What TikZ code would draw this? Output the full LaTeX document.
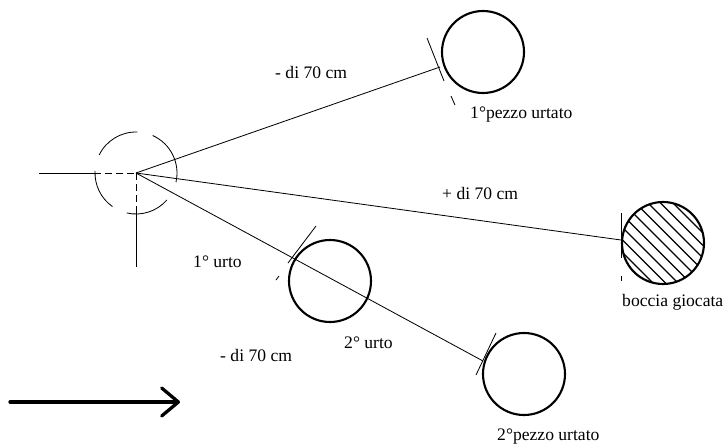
\documentclass[tikz,border=0pt]{standalone}
\usepackage{amsmath}
\usepackage{fontspec}
\setmainfont{Liberation Serif}
\usetikzlibrary{arrows.meta,calc}

\tikzset{
  ball/.style={circle, draw, line width=1.8pt, minimum size=2.46cm, inner sep=0pt},
  fine/.style={line width=0.7pt},
  lbl/.style={anchor=base west, inner sep=0pt, font=\fontsize{15}{18}\selectfont},
}

\begin{document}
\begin{tikzpicture}[x=0.03cm, y=-0.03cm]
\useasboundingbox (0,0) rectangle (725,446);
%cue ball
\coordinate (cue) at (136,173);
\foreach \a/\b in {88/154, 177/235, 257/319, 347/426}{
	\draw[fine] ($(cue)+(-\a:41)$) arc[start angle=-\a, end angle=-\b, radius=41];
	}
\coordinate (west) at (39,173);
\coordinate (westin) at (94,173);
\coordinate (south) at (136,267);
\coordinate (southin) at (136,213);
\draw[fine] (west) -- (westin);
\draw[fine, dash pattern={on 6pt off 3.5pt}] (westin) -- (cue);
\draw[fine, dash pattern={on 6pt off 3.5pt}] (cue) -- (southin);
\draw[fine] (southin) -- (south);
%hatched ball
\coordinate (gc) at (663,243);
\begin{scope}
	\clip (gc) circle[radius=41.5];
	\foreach \k in {-6,...,6}{
		\draw[line width=1.2pt] ($(gc)+(\k*12.5-60,-60)$) -- ++(120,120);
		}
\end{scope}
%balls
\node[ball] (giocata) at (gc) {};
\node[ball] (pezzoA) at (483,52) {};
\node[ball] (mid) at (330,281) {};
\node[ball] (pezzoB) at (524,374) {};
%contact points
\coordinate (hitA) at (440,67);
\coordinate (hitG) at (621,240);
\coordinate (hitB) at (483,361);
\draw[fine] (cue) -- (hitA);
\draw[fine] (cue) -- (hitG);
\draw[fine] (cue) -- (hitB);
%tangent marks
\draw[fine] (427,38) -- (444,81);
\draw[fine] (451,96) -- (455,105);
\draw[fine] (621,213) -- (621,258);
\draw[fine] (621,276) -- (621,281);
\draw[fine] (316,226) -- (288,263);
\draw[fine] (279,276) -- (276,280);
\draw[fine] (496,333) -- (476,375);
%direction
\coordinate (dirA) at (10,402);
\coordinate (dirB) at (180,402);
\draw[line width=2.8pt, line cap=round, -{Straight Barb[round, length=0.5cm, width=0.84cm]}] (dirA) -- (dirB);
%labels
\node[lbl] (lA) at (275,78) {- di 70 cm};
\node[lbl] (lpA) at (470,118) {1°pezzo urtato};
\node[lbl] (lG) at (442,199) {+ di 70 cm};
\node[lbl] (lbg) at (622,306) {boccia giocata};
\node[lbl] (lu1) at (193,267) {1° urto};
\node[lbl] (lu2) at (344,348) {2° urto};
\node[lbl] (lB) at (220,361) {- di 70 cm};
\node[lbl] (lpB) at (497,440) {2°pezzo urtato};
\end{tikzpicture}
\end{document}
